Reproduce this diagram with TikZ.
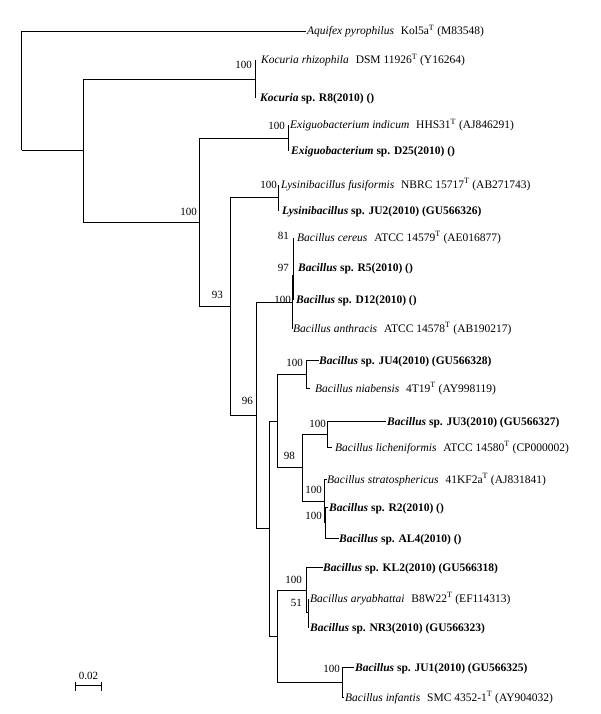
\documentclass[tikz,border=0pt]{standalone}
\usepackage{fontspec}
\setmainfont{Liberation Serif}
\newcommand\Ty{\textsuperscript{T}}
\newcommand\gp{\hspace{0.6em}}
\begin{document}
\begin{tikzpicture}[x=1pt,y=-1pt,
  br/.style={line width=1.1pt},
  lab/.style={anchor=base west, inner sep=0pt, font=\fontsize{11.5}{13}\selectfont},
  bs/.style={anchor=base east, inner sep=0pt, font=\fontsize{11}{13}\selectfont}]
\useasboundingbox (0,0) rectangle (600,714);
\begin{scope}[shift={(0.5,0.5)}]
% internal nodes and tips
\coordinate (root) at (21,150);
\coordinate (aq) at (305,31);
\coordinate (n1) at (83,150);
\coordinate (k) at (255,79);
\coordinate (krh) at (255,60);
\coordinate (kr8) at (255,98);
\coordinate (n2) at (199,222);
\coordinate (e) at (288,138);
\coordinate (eind) at (288,125);
\coordinate (ed25) at (288,151);
\coordinate (n3) at (230,306);
\coordinate (l) at (278,197);
\coordinate (lfus) at (278,184);
\coordinate (lju2) at (278,210);
\coordinate (n4) at (256,415);
\coordinate (c1) at (292,302);
\coordinate (c2) at (293,275);
\coordinate (c3) at (293,252);
\coordinate (bcer) at (293,237);
\coordinate (br5) at (293,267);
\coordinate (bd12) at (293,299);
\coordinate (bant) at (292,328);
\coordinate (n5) at (269,528);
\coordinate (n6) at (277,421);
\coordinate (j4) at (306,374);
\coordinate (ju4) at (318,360);
\coordinate (bnia) at (309,388);
\coordinate (n7) at (302,467);
\coordinate (j3) at (327,434);
\coordinate (ju3) at (385,421);
\coordinate (blic) at (331,447);
\coordinate (s1) at (324,501);
\coordinate (s2) at (325,522);
\coordinate (bstr) at (326,479);
\coordinate (br2) at (327,507);
\coordinate (bal4) at (338,538);
\coordinate (n8) at (277,636);
\coordinate (kl) at (306,590);
\coordinate (kl2) at (322,567);
\coordinate (n51) at (308,612);
\coordinate (bary) at (308,598);
\coordinate (nr3) at (308,627);
\coordinate (j1) at (342,682);
\coordinate (ju1) at (353,667);
\coordinate (binf) at (343,697);
% branches
\draw[br] (root) |- (aq);
\draw[br] (root) |- (n1);
\draw[br] (n1) |- (k);
\draw[br] (n1) |- (n2);
\draw[br] (k) |- (krh);
\draw[br] (k) |- (kr8);
\draw[br] (n2) |- (e);
\draw[br] (n2) |- (n3);
\draw[br] (e) |- (eind);
\draw[br] (e) |- (ed25);
\draw[br] (n3) |- (l);
\draw[br] (n3) |- (n4);
\draw[br] (l) |- (lfus);
\draw[br] (l) |- (lju2);
\draw[br] (n4) |- (c1);
\draw[br] (n4) |- (n5);
\draw[br] (c1) |- (c2);
\draw[br] (c1) |- (bant);
\draw[br] (c2) |- (c3);
\draw[br] (c2) |- (bd12);
\draw[br] (c3) |- (bcer);
\draw[br] (c3) |- (br5);
\draw[br] (n5) |- (n6);
\draw[br] (n5) |- (n8);
\draw[br] (n6) |- (j4);
\draw[br] (n6) |- (n7);
\draw[br] (j4) |- (ju4);
\draw[br] (j4) |- (bnia);
\draw[br] (n7) |- (j3);
\draw[br] (n7) |- (s1);
\draw[br] (j3) |- (ju3);
\draw[br] (j3) |- (blic);
\draw[br] (s1) |- (bstr);
\draw[br] (s1) |- (s2);
\draw[br] (s2) |- (br2);
\draw[br] (s2) |- (bal4);
\draw[br] (n8) |- (kl);
\draw[br] (n8) |- (j1);
\draw[br] (kl) |- (kl2);
\draw[br] (kl) |- (n51);
\draw[br] (n51) |- (bary);
\draw[br] (n51) |- (nr3);
\draw[br] (j1) |- (ju1);
\draw[br] (j1) |- (binf);
% scale bar
\coordinate (sb1) at (75,685);
\coordinate (sb2) at (101,685);
\draw[br] (sb1) -- (sb2);
\draw[br] (sb1) ++(0,-4) -- ++(0,9);
\draw[br] (sb2) ++(0,-4) -- ++(0,9);
\end{scope}
% tip labels
\node[lab] (Laq) at (307,35) {\textit{Aquifex pyrophilus}\gp Kol5a\Ty\ (M83548)};
\node[lab] (Lkrh) at (261,64) {\textit{Kocuria rhizophila}\gp DSM 11926\Ty\ (Y16264)};
\node[lab] (Lkr8) at (260,102) {\textbf{\textit{Kocuria} sp. R8(2010) ()}};
\node[lab] (Leind) at (290,129) {\textit{Exiguobacterium indicum}\gp HHS31\Ty\ (AJ846291)};
\node[lab] (Led25) at (291,155) {\textbf{\textit{Exiguobacterium} sp. D25(2010) ()}};
\node[lab] (Llfus) at (281,188) {\textit{Lysinibacillus fusiformis}\gp NBRC 15717\Ty\ (AB271743)};
\node[lab] (Llju2) at (282,214) {\textbf{\textit{Lysinibacillus} sp. JU2(2010) (GU566326)}};
\node[lab] (Lbcer) at (297,241) {\textit{Bacillus cereus}\gp ATCC 14579\Ty\ (AE016877)};
\node[lab] (Lbr5) at (298,271) {\textbf{\textit{Bacillus} sp. R5(2010) ()}};
\node[lab] (Lbd12) at (296,303) {\textbf{\textit{Bacillus} sp. D12(2010) ()}};
\node[lab] (Lbant) at (293,332) {\textit{Bacillus anthracis}\gp ATCC 14578\Ty\ (AB190217)};
\node[lab] (Lju4) at (319,364) {\textbf{\textit{Bacillus} sp. JU4(2010) (GU566328)}};
\node[lab] (Lbnia) at (315,392) {\textit{Bacillus niabensis}\gp 4T19\Ty\ (AY998119)};
\node[lab] (Lju3) at (387,425) {\textbf{\textit{Bacillus} sp. JU3(2010) (GU566327)}};
\node[lab] (Lblic) at (335,451) {\textit{Bacillus licheniformis}\gp ATCC 14580\Ty\ (CP000002)};
\node[lab] (Lbstr) at (327,483) {\textit{Bacillus stratosphericus}\gp 41KF2a\Ty\ (AJ831841)};
\node[lab] (Lbr2) at (329,511) {\textbf{\textit{Bacillus} sp. R2(2010) ()}};
\node[lab] (Lbal4) at (339,542) {\textbf{\textit{Bacillus} sp. AL4(2010) ()}};
\node[lab] (Lkl2) at (323,571) {\textbf{\textit{Bacillus} sp. KL2(2010) (GU566318)}};
\node[lab] (Lbary) at (310,602) {\textit{Bacillus aryabhattai}\gp B8W22\Ty\ (EF114313)};
\node[lab] (Lnr3) at (310,631) {\textbf{\textit{Bacillus} sp. NR3(2010) (GU566323)}};
\node[lab] (Lju1) at (355,671) {\textbf{\textit{Bacillus} sp. JU1(2010) (GU566325)}};
\node[lab] (Lbinf) at (345,701) {\textit{Bacillus infantis}\gp SMC 4352-1\Ty\ (AY904032)};
% bootstrap values
\node[bs] (Bk) at (252,69) {100};
\node[bs] (Be) at (285,130) {100};
\node[bs] (Bn2) at (197,215) {100};
\node[bs] (Bl) at (277,189) {100};
\node[bs] (Bc3) at (289,239) {81};
\node[bs] (Bc2) at (289,271) {97};
\node[bs] (Bc1) at (291,303) {100};
\node[bs] (Bn3) at (223,298) {93};
\node[bs] (Bj4) at (303,366) {100};
\node[bs] (Bn4) at (253,404) {96};
\node[bs] (Bj3) at (326,427) {100};
\node[bs] (Bn7) at (295,459) {98};
\node[bs] (Bs1) at (322,493) {100};
\node[bs] (Bs2) at (322,519) {100};
\node[bs] (Bkl) at (302,583) {100};
\node[bs] (B51) at (302,606) {51};
\node[bs] (Bj1) at (340,672) {100};
\node[anchor=base, inner sep=0pt, font=\fontsize{11}{13}\selectfont] (sbt) at (88.5,679) {0.02};
\end{tikzpicture}
\end{document}
